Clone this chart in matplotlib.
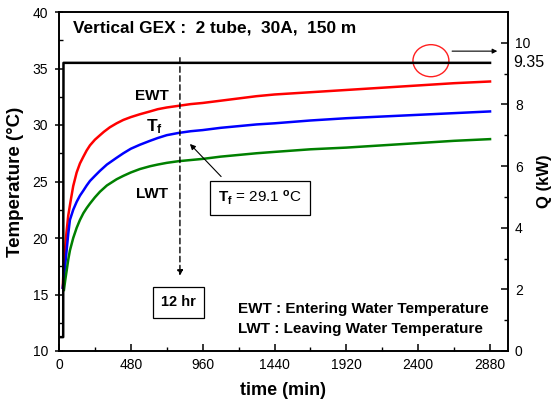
import matplotlib
matplotlib.use("Agg")
import matplotlib.pyplot as plt
from matplotlib.patches import Ellipse

plt.rcParams['font.family'] = ['Liberation Sans', 'DejaVu Sans']
plt.rcParams['mathtext.fontset'] = 'custom'
plt.rcParams['mathtext.rm'] = 'Liberation Sans:bold'
plt.rcParams['mathtext.it'] = 'Liberation Sans:bold'
plt.rcParams['mathtext.bf'] = 'Liberation Sans:bold'
plt.rcParams['mathtext.default'] = 'bf'

# ---- data ----
t_ewt = [25, 31, 40, 50, 62, 78, 95, 118, 140, 163, 185, 207, 240, 274, 300, 340, 385, 430, 480, 540, 608, 660, 720, 800, 880, 960, 1080, 1200, 1320, 1440, 1680, 1920, 2160, 2400, 2640, 2880]
ewt   = [15.6, 17.4, 19.0, 20.5, 22.0, 23.3, 24.6, 25.8, 26.6, 27.2, 27.75, 28.2, 28.7, 29.1, 29.4, 29.8, 30.15, 30.45, 30.7, 30.95, 31.2, 31.4, 31.55, 31.7, 31.85, 31.95, 32.15, 32.35, 32.55, 32.7, 32.9, 33.1, 33.3, 33.5, 33.7, 33.85]

t_tf = [25, 33, 40, 51, 62, 73, 95, 118, 140, 163, 185, 207, 240, 274, 320, 385, 430, 480, 540, 608, 660, 720, 800, 880, 960, 1080, 1200, 1320, 1440, 1680, 1920, 2160, 2400, 2640, 2880]
tf   = [15.6, 16.5, 17.4, 18.9, 20.4, 21.6, 22.5, 23.2, 23.75, 24.2, 24.65, 25.05, 25.5, 25.95, 26.5, 27.1, 27.5, 27.9, 28.25, 28.6, 28.85, 29.1, 29.3, 29.45, 29.55, 29.75, 29.9, 30.05, 30.15, 30.4, 30.6, 30.75, 30.9, 31.05, 31.2]

t_lwt = [33, 42, 51, 62, 73, 95, 118, 140, 163, 185, 207, 240, 274, 320, 385, 430, 480, 540, 608, 660, 720, 800, 880, 960, 1080, 1200, 1320, 1440, 1680, 1920, 2160, 2400, 2640, 2880]
lwt   = [15.4, 16.3, 17.1, 18.1, 18.9, 20.0, 20.9, 21.6, 22.2, 22.65, 23.05, 23.6, 24.1, 24.65, 25.2, 25.5, 25.8, 26.1, 26.35, 26.5, 26.65, 26.8, 26.9, 27.0, 27.2, 27.35, 27.5, 27.62, 27.85, 28.0, 28.2, 28.4, 28.6, 28.75]

t_q = [0, 28, 30, 2880]
q   = [0.45, 0.45, 9.35, 9.35]

x_ticks = [0, 480, 960, 1440, 1920, 2400, 2880]
y_ticks = [10, 15, 20, 25, 30, 35, 40]
q_ticks = [0, 2, 4, 6, 8, 10]

fig = plt.figure(figsize=(5.54, 4.05), dpi=100)
ax = fig.add_axes([59/554, 1-351/405, (508-59)/554, (351-12)/405])
ax2 = ax.twinx()

ax.plot(t_ewt, ewt, color='#ff0000', lw=1.8, zorder=3)
ax.plot(t_tf, tf, color='#0000ff', lw=1.8, zorder=3)
ax.plot(t_lwt, lwt, color='#008000', lw=1.8, zorder=3)
ax2.plot(t_q, q, color='black', lw=1.8)

ax.set_xlim(0, 3000)
ax.set_ylim(10, 40)
ax2.set_ylim(0, 11)

ax.set_xticks(x_ticks)
ax.set_xticks(range(240, 3000, 480), minor=True)
ax.set_yticks(y_ticks)
ax.set_yticks([12.5 + 5*i for i in range(6)], minor=True)
ax2.set_yticks(q_ticks)
ax2.set_yticks([1, 3, 5, 7, 9], minor=True)

for a in (ax, ax2):
    a.tick_params(which='major', direction='in', length=5, width=1.1, labelsize=10, pad=5)
    a.tick_params(which='minor', direction='in', length=3, width=1.0)
    for s in a.spines.values():
        s.set_linewidth(1.2)
ax.tick_params(top=False, which='both')
ax.tick_params(axis='y', which='major', direction='inout', length=6)

ax.set_xlabel('time (min)', fontsize=13, fontweight='bold', labelpad=7)
ax.set_ylabel('Temperature (°C)', fontsize=13.5, fontweight='bold', labelpad=6)
ax2.set_ylabel('Q (kW)', fontsize=12, fontweight='bold', labelpad=5)

def figpx(x, y):
    return fig.transFigure.inverted().transform(fig.dpi_scale_trans.transform((x/100, (405-y)/100)))

fx, fy = figpx(73, 28)
fig.text(fx, fy, 'Vertical GEX :  2 tube,  30A,  150 m', fontsize=12.4, fontweight='bold', va='center')

for txt, (px, py) in [('EWT', (152, 96)), ('LWT', (152, 194))]:
    fx, fy = figpx(px, py)
    fig.text(fx, fy, txt, fontsize=11, fontweight='bold', ha='center', va='center')
fx, fy = figpx(154, 127)
fig.text(fx, fy, r'$T_f$', fontsize=12.5, ha='center', va='center')

# Tf box with arrow
ax.annotate('', xy=(862, 28.5), xytext=(1096, 25.26),
            arrowprops=dict(arrowstyle='-|>', color='black', lw=0.8, mutation_scale=8))
fx, fy = figpx(260, 198)
fig.text(fx, fy, r'$T_f$ = 29.1 $^o$C', fontsize=11, ha='center', va='center',
         bbox=dict(boxstyle='square,pad=0.5', fc='white', ec='black', lw=0.9))

# dashed 12 hr line
ax.annotate('', xy=(808, 16.4), xytext=(808, 36.2),
            arrowprops=dict(arrowstyle='-|>', color='black', lw=1.0, ls=(0, (4, 2.5)), mutation_scale=8))
fx, fy = figpx(178.5, 302.5)
fig.text(fx, fy, '12 hr', fontsize=10.5, fontweight='bold', ha='center', va='center',
         bbox=dict(boxstyle='square,pad=0.55', fc='white', ec='black', lw=0.9))

# definitions
fx, fy = figpx(238, 309)
fig.text(fx, fy, 'EWT : Entering Water Temperature', fontsize=11, fontweight='bold', va='center')
fx, fy = figpx(238, 329)
fig.text(fx, fy, 'LWT : Leaving Water Temperature', fontsize=11, fontweight='bold', va='center')

# 9.35 marker
ax2.add_patch(Ellipse((2485, 9.42), 240, 1.04, fill=False, ec='#ff2020', lw=1.0))
ax2.annotate('', xy=(2947, 9.73), xytext=(2608, 9.73),
             arrowprops=dict(arrowstyle='-|>', color='black', lw=0.8, mutation_scale=7))
ax2.text(1.012, 9.35, '9.35', transform=ax2.get_yaxis_transform(), fontsize=11.5, va='center', ha='left')

fig.savefig('out.png', dpi=100)
